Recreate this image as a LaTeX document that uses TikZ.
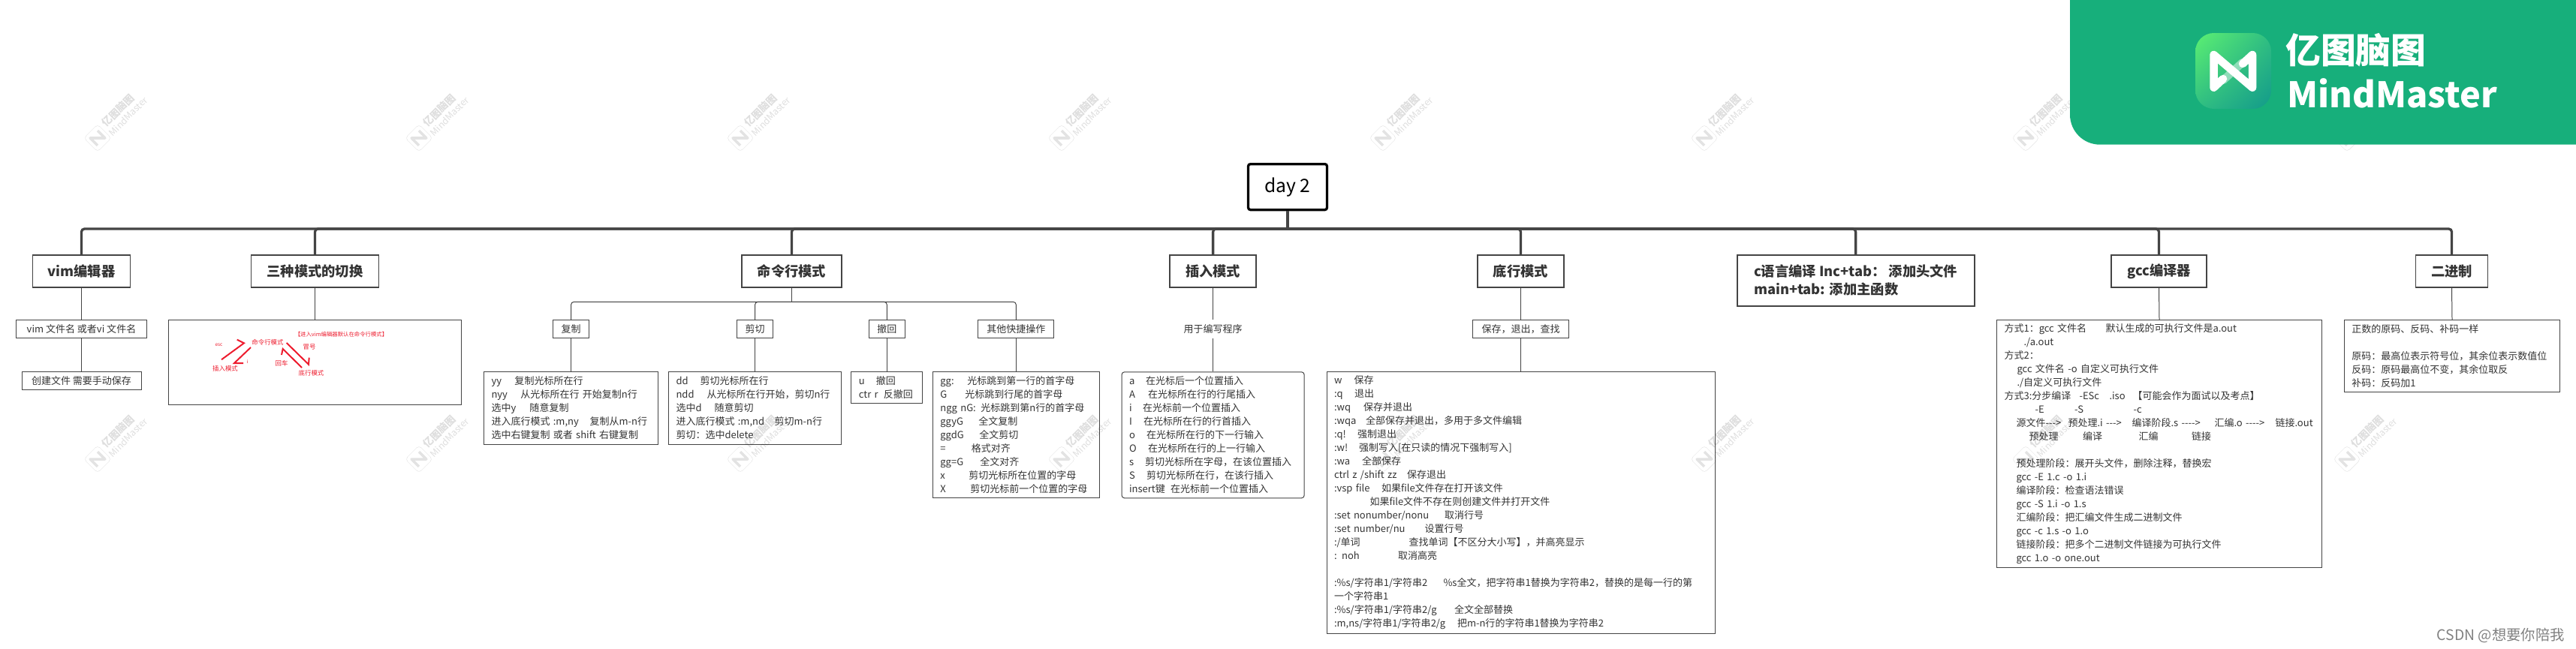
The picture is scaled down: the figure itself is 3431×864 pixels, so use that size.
\documentclass[tikz,border=0pt]{standalone}
\usepackage{fontspec}
\setmainfont{Noto Sans CJK SC}
\usepackage{xcolor}
\usetikzlibrary{shadings}

% one reference pixel
\newlength{\unitpx}
\setlength{\unitpx}{0.03cm}
\newcommand{\colat}[2]{\makebox[#1\unitpx][l]{#2}}

\definecolor{linegray}{HTML}{444444}
\definecolor{textgray}{HTML}{333333}
\definecolor{brandgreen}{HTML}{17AF7B}
\definecolor{sketchred}{HTML}{ED1C2E}
\definecolor{iconlight}{HTML}{5CF072}
\definecolor{iconmid}{HTML}{30BE82}
\definecolor{icondark}{HTML}{129A8B}

\tikzset{
  rootbox/.style={draw=black, line width=2.8pt, rounded corners=2.5pt, anchor=north,
    minimum width=105\unitpx, minimum height=61\unitpx, inner sep=0pt,
    font=\fontsize{21}{25}\selectfont},
  topicbox/.style={draw=linegray, line width=1.6pt, anchor=north, text=textgray,
    minimum width=#1\unitpx, minimum height=43\unitpx, inner sep=0pt,
    font=\bfseries\fontsize{15.6}{20.5}\selectfont},
  subbox/.style={draw=linegray, line width=0.85pt, anchor=north, text=textgray,
    minimum width=#1\unitpx, minimum height=24\unitpx, inner sep=0pt,
    font=\fontsize{11.1}{15.36}\selectfont},
  notebox/.style 2 args={draw=linegray, line width=0.85pt, anchor=north, text=textgray,
    text width=#1\unitpx-20\unitpx, minimum height=#2\unitpx, inner xsep=10\unitpx, inner ysep=0pt,
    align=left, font=\fontsize{11.1}{15.36}\selectfont},
  redlabel/.style={text=sketchred, inner sep=0pt, font=\fontsize{7.2}{9}\selectfont},
  redline/.style={draw=sketchred, line width=1.7pt},
  trunkline/.style={draw=linegray, line width=2.8pt, rounded corners=3.4pt},
  branchline/.style={draw=linegray, line width=0.85pt, rounded corners=3.4pt},
  wmtext/.style={text=black, opacity=0.13, rotate=45, inner sep=0pt},
  wmline/.style={draw=black, opacity=0.11, line join=round},
}

\begin{document}
\begin{tikzpicture}[x=0.03cm,y=-0.03cm]
  \useasboundingbox (0,0) rectangle (3431,864);

  % --- ROOT AND TOPICS ---
  \node[rootbox] (root) at (1715,217) {day 2};
  \coordinate (bar) at (1715,305);

  \node[topicbox=130] (vimbox) at (108.5,339) {vim编辑器};
  \node[topicbox=170] (modebox) at (419.5,339) {三种模式的切换};
  \node[topicbox=133] (cmdbox) at (1054.5,339) {命令行模式};
  \node[topicbox=115] (insbox) at (1615.6,339) {插入模式};
  \node[topicbox=115] (lastbox) at (2025.5,339) {底行模式};
  \node[topicbox=316, minimum height=68\unitpx, align=left] (cbox) at (2471.6,339)
    {c语言编译 Inc+tab： 添加头文件\\main+tab: 添加主函数};
  \node[topicbox=127] (gccbox) at (2875.5,339) {gcc编译器};
  \node[topicbox=96] (binbox) at (3265.5,339) {二进制};

  \draw[trunkline] (root.south) -- (bar);
  \foreach \n in {vimbox,modebox,cmdbox,insbox,lastbox,cbox,gccbox,binbox}
    \draw[trunkline] (bar) -| (\n.north);

  % --- VIM ---
  \node[subbox=174] (vimopen) at (108.5,426) {vim 文件名 或者vi 文件名};
  \node[subbox=159] (vimnew) at (108.5,495) {创建文件 需要手动保存};

  % --- MODE SWITCH SKETCH ---
  \node[notebox={390}{113}] (modenote) at (419.5,426) {};
  \node[redlabel, font=\fontsize{6.3}{8}\selectfont] (defaultlabel) at (454.5,445.7) {【进入vim编辑器默认在命令行模式】};
  \node[redlabel] (cmdlabel) at (356.5,456) {命令行模式};
  \node[redlabel, font=\fontsize{5.5}{7}\selectfont] (esclabel) at (291.5,460) {esc};
  \node[redlabel] (inslabel) at (300,491) {插入模式};
  \node[redlabel, font=\fontsize{5.5}{7}\selectfont] (ilabel) at (329.5,482) {i};
  \node[redlabel] (colonlabel) at (412,462) {冒号};
  \node[redlabel] (enterlabel) at (375,484) {回车};
  \node[redlabel] (lastlabel) at (414.5,497) {底行模式};

  \coordinate (escfrom) at (295,479.3);
  \coordinate (esctip) at (325,457.3);
  \coordinate (escbarb) at (315.7,452.7);
  \coordinate (ifrom) at (334,463);
  \coordinate (itip) at (312,484);
  \coordinate (ibarb) at (324,484);
  \coordinate (colonfrom) at (381.7,457);
  \coordinate (colontip) at (411,485.7);
  \coordinate (colonbarb) at (411.7,476.7);
  \coordinate (enterfrom) at (402,490);
  \coordinate (entertip) at (376.7,465);
  \coordinate (enterbarb) at (375,473);
  \draw[redline] (escfrom) -- (esctip) -- (escbarb);
  \draw[redline] (ifrom) -- (itip) -- (ibarb);
  \draw[redline] (colonfrom) -- (colontip) -- (colonbarb);
  \draw[redline] (enterfrom) -- (entertip) -- (enterbarb);

  % --- COMMAND MODE ---
  \coordinate (cmdbar) at (1054.5,402.3);
  \node[subbox=48] (copybox) at (760.5,426.3) {复制};
  \node[subbox=48] (cutbox) at (1005.5,426.3) {剪切};
  \node[subbox=48] (undobox) at (1181.4,426.3) {撤回};
  \node[subbox=101] (otherbox) at (1353.4,426.3) {其他快捷操作};
  \draw[branchline] (cmdbox.south) -- (cmdbar);
  \foreach \n in {copybox,cutbox,undobox,otherbox}
    \draw[branchline] (cmdbar) -| (\n.north);

  \node[notebox={232}{96.4}] (copynote) at (760.5,495.3) {%
    \colat{31}{yy}复制光标所在行\\
    \colat{39}{nyy}从光标所在行 开始复制n行\\
    \colat{51}{选中y}随意复制\\
    \colat{131}{进入底行模式 :m,ny}复制从m-n行\\
    选中右键复制 或者 shift 右键复制};
  \node[notebox={230}{96.4}] (cutnote) at (1005.5,495.3) {%
    \colat{32}{dd}剪切光标所在行\\
    \colat{41}{ndd}从光标所在行开始，剪切n行\\
    \colat{51}{选中d}随意剪切\\
    \colat{131}{进入底行模式 :m,nd}剪切m-n行\\
    剪切：选中delete};
  \node[notebox={95}{42}] (undonote) at (1181.4,495.3) {%
    \colat{23}{u}撤回\\
    \colat{33}{ctr r}反撤回};
  \node[notebox={222}{168}] (othernote) at (1353.4,495.3) {%
    \colat{36}{gg:}光标跳到第一行的首字母\\
    \colat{33}{G}光标跳到行尾的首字母\\
    \colat{54}{ngg nG:}光标跳到第n行的首字母\\
    \colat{51}{ggyG}全文复制\\
    \colat{52}{ggdG}全文剪切\\
    \colat{41.5}{=}格式对齐\\
    \colat{53}{gg=G}全文对齐\\
    \colat{38}{x}剪切光标所在位置的字母\\
    \colat{40}{X}剪切光标前一个位置的字母};

  % --- INSERT MODE ---
  \node[subbox=80, draw=none] (inslabelbox) at (1615.6,426) {用于编写程序};
  \node[notebox={243}{168}, rounded corners=3pt] (insnote) at (1615.6,495.3) {%
    \colat{22}{a}在光标后一个位置插入\\
    \colat{25}{A}在光标所在行的行尾插入\\
    \colat{18}{i}在光标前一个位置插入\\
    \colat{19}{I}在光标所在行的行首插入\\
    \colat{23}{o}在光标所在行的下一行输入\\
    \colat{25}{O}在光标所在行的上一行输入\\
    \colat{21}{s}剪切光标所在字母，在该位置插入\\
    \colat{23}{S}剪切光标所在行，在该行插入\\
    \colat{55}{insert键}在光标前一个位置插入};

  % --- LAST LINE MODE ---
  \node[subbox=128.5] (savebox) at (2025.5,426.3) {保存，退出，查找};
  \node[notebox={517}{348.3}] (lastnote) at (2025.5,495.3) {%
    \colat{26.5}{w}保存\\
    \colat{27}{:q}退出\\
    \colat{39}{:wq}保存并退出\\
    \colat{42}{:wqa}全部保存并退出，多用于多文件编辑\\
    \colat{31}{:q!}强制退出\\
    \colat{33}{:w!}强制写入[在只读的情况下强制写入]\\
    \colat{37}{:wa}全部保存\\
    \colat{97}{ctrl z /shift zz}保存退出\\
    \colat{63}{:vsp file}如果file文件存在打开该文件\\
    \colat{47.5}{}如果file文件不存在则创建文件并打开文件\\
    \colat{147}{:set nonumber/nonu}取消行号\\
    \colat{120.6}{:set number/nu}设置行号\\
    \colat{99.6}{:/单词}查找单词【不区分大小写】，并高亮显示\\
    \colat{85}{: noh}取消高亮\\
    \mbox{}\\
    \colat{145.5}{:\%s/字符串1/字符串2}\%s全文，把字符串1替换为字符串2，替换的是每一行的第\\
    一个字符串1\\
    \colat{160}{:\%s/字符串1/字符串2/g}全文全部替换\\
    \colat{164}{:m,ns/字符串1/字符串2/g}把m-n行的字符串1替换为字符串2};

  % --- GCC ---
  \node[notebox={433}{330}] (gccnote) at (2876,426.3) {%
    \colat{135}{方式1：gcc 文件名}默认生成的可执行文件是a.out\\
    \colat{26}{}./a.out\\
    方式2：\\
    \colat{17}{}gcc 文件名 -o 自定义可执行文件\\
    \colat{17}{}./自定义可执行文件\\
    \colat{100}{方式3:分步编译}\colat{40}{-ESc}\colat{31}{.iso}【可能会作为面试以及考点】\\
    \colat{41}{}\colat{52.5}{-E}\colat{78.5}{-S}-c\\
    \colat{16}{}\colat{69}{源文件{-}{-}{-}>}\colat{85}{预处理.i {-}{-}{-}>}\colat{110}{编译阶段.s {-}{-}{-}{-}>}\colat{81}{汇编.o {-}{-}{-}{-}>}链接.out\\
    \colat{33}{}\colat{71.7}{预处理}\colat{74.3}{编译}\colat{70.6}{汇编}链接\\
    \mbox{}\\
    \colat{16}{}预处理阶段：展开头文件，删除注释，替换宏\\
    \colat{16}{}gcc -E 1.c -o 1.i\\
    \colat{16}{}编译阶段：检查语法错误\\
    \colat{16}{}gcc -S 1.i -o 1.s\\
    \colat{16}{}汇编阶段：把汇编文件生成二进制文件\\
    \colat{16}{}gcc -c 1.s -o 1.o\\
    \colat{16}{}链接阶段：把多个二进制文件链接为可执行文件\\
    \colat{16}{}gcc 1.o -o one.out};

  % --- BINARY ---
  \node[notebox={287.4}{96}] (binnote) at (3266,426.3) {%
    正数的原码、反码、补码一样\\
    \mbox{}\\
    原码：最高位表示符号位，其余位表示数值位\\
    反码：原码最高位不变，其余位取反\\
    补码：反码加1};

  % --- CHILD LINKS ---
  \foreach \a/\b in {vimbox/vimopen,vimopen/vimnew,modebox/modenote,
                     copybox/copynote,cutbox/cutnote,undobox/undonote,otherbox/othernote,
                     insbox/inslabelbox,inslabelbox/insnote,lastbox/savebox,savebox/lastnote,
                     gccbox/gccnote,binbox/binnote}
    \draw[branchline] (\a.south) -- (\b.north);

  % --- WATERMARK ---
  \foreach \wx in {130,558,986,1414,1842,2270,2698,3126}
    \foreach \wy in {184,612} {
      \node[wmtext, font=\bfseries\fontsize{11.5}{12}\selectfont] (wmcn\wx\wy) at (\wx+27,\wy-37) {亿图脑图};
      \node[wmtext, font=\fontsize{10.5}{12}\selectfont] (wmen\wx\wy) at (\wx+41,\wy-29) {MindMaster};
      \begin{scope}[shift={(\wx,\wy)}, rotate=45]
        \draw[wmline, line width=0.4pt, rounded corners=4pt] (-13,-13) rectangle (13,13);
        \draw[wmline, line width=3pt] (-7,7) -- (-7,-7) -- (7,7) -- (7,-7);
      \end{scope}
    }

  % --- LOGO ---
  \fill[brandgreen] (3431,0) -- (2757,0) [rounded corners=34pt] -- (2757,192.7) [sharp corners] -- (3431,192.7) -- cycle;
  \shade[rounded corners=21pt, upper left=iconlight, upper right=iconmid, lower left=iconmid,
         lower right=icondark] (2924,44) rectangle (3025,145);
  \draw[white, opacity=0.45, line width=9pt, line cap=round] (2961,107) -- (2987,83);
  \draw[white, line width=9pt, line cap=round, line join=round]
    (2961,105) -- (2948.5,116.7) -- (2948.5,73) -- (3000,116.7) -- (3000,73) -- (2987,85);
  \node[text=white, anchor=west, inner sep=0pt, font=\bfseries\fontsize{40}{48}\selectfont] (logocn) at (3044,67) {亿图脑图};
  \node[text=white, anchor=west, inner sep=0pt, font=\bfseries\fontsize{40}{48}\selectfont] (logoen) at (3046,124) {MindMaster};

  % --- CSDN MARK ---
  \node[text=gray, anchor=east, inner sep=0pt, font=\fontsize{16.5}{20}\selectfont] (csdnmark) at (3416,847) {CSDN @想要你陪我};
\end{tikzpicture}
\end{document}
